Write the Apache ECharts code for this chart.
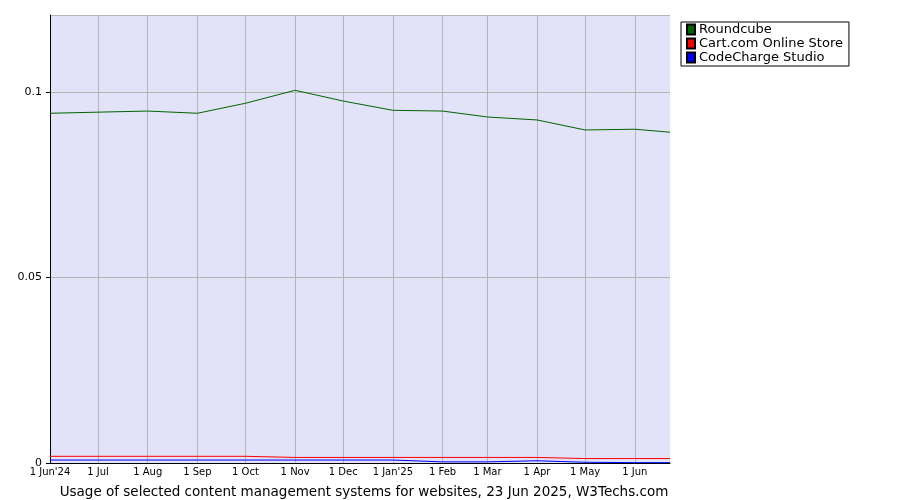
<!DOCTYPE html>
<html><head><meta charset="utf-8">
<script src="https://cdn.jsdelivr.net/npm/echarts@6/dist/echarts.min.js"></script>
<style>body{margin:0;background:#fff}#c{width:900px;height:500px}</style></head>
<body><div id="c"></div>
<script>
const dayOffsets = [0,30,61,92,122,153,183,214,245,273,304,334,365,387];
const tickDays = [0,30,61,92,122,153,183,214,245,273,304,334,365];
const tickLabels = ["1 Jun'24","1 Jul","1 Aug","1 Sep","1 Oct","1 Nov","1 Dec","1 Jan'25","1 Feb","1 Mar","1 Apr","1 May","1 Jun"];
const roundcube = [0.0943,0.0946,0.0949,0.0943,0.0970,0.1005,0.0976,0.0951,0.0949,0.0933,0.0925,0.0898,0.0900,0.0892];
const cartcom = [0.0018,0.0018,0.0018,0.0018,0.0018,0.0015,0.0015,0.0015,0.0015,0.0015,0.0015,0.0012,0.0012,0.0012];
const codecharge = [0.0008,0.0008,0.0008,0.0008,0.0008,0.0008,0.0008,0.0008,0.0003,0.0003,0.0006,0.0002,0.0001,0.0001];
const names = ["Roundcube","Cart.com Online Store","CodeCharge Studio"];
const colors = ["#006400","#ff0000","#0000ff"];
const pair = a => a.map((v,i)=>[dayOffsets[i],v]);
const font = "DejaVu Sans";
const chart = echarts.init(document.getElementById('c'));
chart.setOption({
  animation:false,
  textStyle:{fontFamily:font},
  grid:{left:50,right:230,top:15,bottom:37,show:true,backgroundColor:'#e2e2f8',borderColor:'#000',borderWidth:0},
  title:{text:'Usage of selected content management systems for websites, 23 Jun 2025, W3Techs.com',left:359,top:480,textAlign:'center',textStyle:{fontSize:13.5,fontWeight:'normal',color:'#000',fontFamily:font}},
  legend:{orient:'vertical',left:681,top:22,itemWidth:8,itemHeight:10,itemGap:1,icon:'rect',padding:[1,6,2,5],
    borderColor:'#000',borderWidth:1,textStyle:{fontSize:13,lineHeight:10,color:'#000',fontFamily:font,padding:[0,0,0,-1]},data:names},
  xAxis:{type:'value',min:0,max:387,
    axisLine:{lineStyle:{color:'#000'}},
    axisTick:{show:false,customValues:tickDays},
    axisLabel:{customValues:tickDays,fontSize:10,color:'#000',margin:4,formatter:v=>tickLabels[tickDays.indexOf(v)]},
    splitLine:{show:true,lineStyle:{color:'#b4b4b4'}}},
  yAxis:{type:'value',min:0,max:0.1208,interval:0.05,
    axisLine:{show:true,lineStyle:{color:'#000'}},axisTick:{show:true,length:4,lineStyle:{color:'#000'}},
    axisLabel:{fontSize:11,color:'#000',showMaxLabel:false,formatter:v=>v===0?'0':String(v)},
    splitLine:{lineStyle:{color:'#b4b4b4'}}},
  series:[roundcube,cartcom,codecharge].map((d,i)=>({name:names[i],type:'line',data:pair(d),symbol:'none',
    lineStyle:{width:1,color:colors[i]},itemStyle:{color:colors[i],borderColor:'#000',borderWidth:1}}))
});
</script></body></html>
